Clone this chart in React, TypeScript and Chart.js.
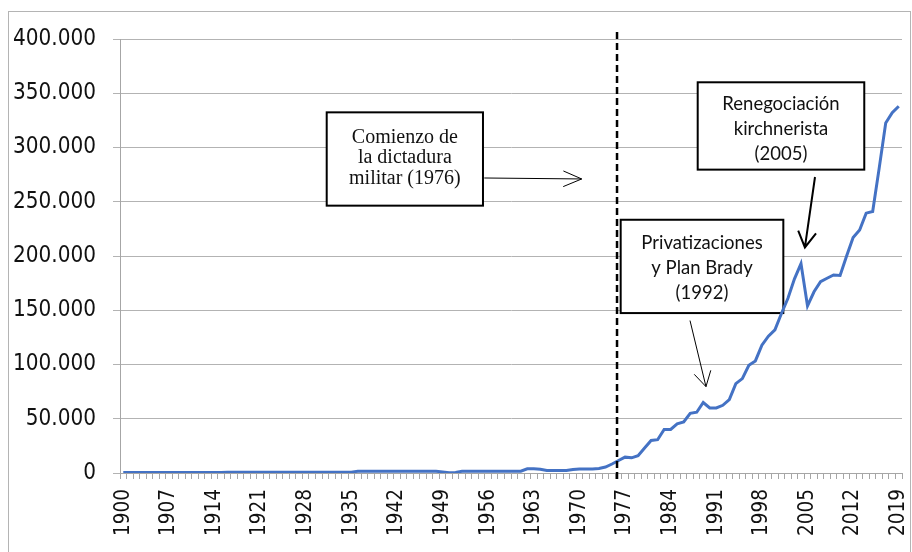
import React, { useEffect, useRef } from "react";
import { Chart, registerables } from "chart.js";

Chart.register(...registerables);

// ---- Data ----
const years: string[] = [];
for (let y = 1900; y <= 2019; y++) years.push(String(y));

// Deuda, 1900–1935
const debt1900_1935 = [
  500, 500, 500, 500, 500, 500, 500, 500, 500, 500,
  500, 500, 500, 500, 500, 500, 600, 600, 600, 600,
  600, 600, 600, 600, 600, 600, 600, 600, 600, 600,
  600, 700, 700, 700, 700, 700,
];
// 1936–1961
const debt1936_1961 = [
  1700, 1700, 1700, 1700, 1700, 1700, 1700, 1700, 1700, 1700,
  1700, 1700, 1700, 900, 200, 500, 1700, 1700, 1700, 1700,
  1700, 1700, 1700, 1700, 1700, 1700,
];
// 1962–1976
const debt1962_1976 = [
  3900, 3900, 3500, 2300, 2300, 2300, 2400, 3200, 3600, 3700,
  3800, 4200, 5500, 8300, 11500,
];
// 1977–2019
const debt1977_2019 = [
  14600, 14000, 16000, 23000, 30000, 30700, 40200, 40200, 45400, 47000,
  55000, 56000, 65000, 60000, 60000, 62400, 67600, 82400, 87000, 99300,
  103300, 117800, 126100, 132000, 147000, 161000, 179000, 193000, 154000, 167000,
  176300, 179500, 182500, 182000, 200000, 217000, 224000, 239500, 241000, 281000,
  322600, 332000, 338000,
];
const debtValues = [...debt1900_1935, ...debt1936_1961, ...debt1962_1976, ...debt1977_2019];

const yTickValues = [0, 50000, 100000, 150000, 200000, 250000, 300000, 350000, 400000];
const labelEvery = 7;
const markerYear = 1976;

const axisFamily = "'DejaVu Sans Condensed', 'DejaVu Sans'";

type Note = {
  lines: string[];
  font: string;
  lineHeight: number;
  textShift: number;
  box: [number, number, number, number]; // year0, value0 (top), year1, value1 (bottom)
  arrow: [number, number, number, number]; // year, value from -> year, value tip
  arrowWidth: number;
  headLen: number;
  headAngle: number;
};

const notes: Note[] = [
  {
    lines: ["Comienzo de", "la dictadura", "militar (1976)"],
    font: "20px 'Liberation Serif'",
    lineHeight: 20.5,
    textShift: -1,
    box: [1931.22, 332400, 1955.2, 246400],
    arrow: [1955.4, 271900, 1970.35, 271000],
    arrowWidth: 1,
    headLen: 20,
    headAngle: 23,
  },
  {
    lines: ["Privatizaciones", "y Plan Brady", "(1992)"],
    font: "18.5px Lato",
    lineHeight: 25,
    textShift: 1.5,
    box: [1976.33, 233400, 2001.29, 147400],
    arrow: [1986.97, 140500, 1989.42, 79600],
    arrowWidth: 1,
    headLen: 17,
    headAngle: 30,
  },
  {
    lines: ["Renegociación", "kirchnerista", "(2005)"],
    font: "18.5px Lato",
    lineHeight: 25,
    textShift: 3.5,
    box: [1988.15, 360100, 2013.71, 279600],
    arrow: [2006.15, 272800, 2004.6, 207900],
    arrowWidth: 2,
    headLen: 18,
    headAngle: 30,
  },
];

function fmt(v: number): string {
  return String(Math.round(v)).replace(/\B(?=(\d{3})+(?!\d))/g, ".");
}

const decorPlugin = {
  id: "decor",
  beforeDatasetsDraw(chart: any) {
    const { ctx } = chart;
    const xs = chart.scales.x;
    const ys = chart.scales.y;
    const n = years.length;
    const px = (yr: number) => xs.left + (yr - 1900 + 0.5) * (xs.width / n);
    const py = (v: number) => ys.getPixelForValue(v);
    ctx.save();
    for (const note of notes) {
      const x0 = px(note.box[0]);
      const y0 = py(note.box[1]);
      const x1 = px(note.box[2]);
      const y1 = py(note.box[3]);
      ctx.fillStyle = "#ffffff";
      ctx.fillRect(x0, y0, x1 - x0, y1 - y0);
      ctx.strokeStyle = "#000000";
      ctx.lineWidth = 2;
      ctx.strokeRect(x0, y0, x1 - x0, y1 - y0);
      ctx.fillStyle = "#111111";
      ctx.font = note.font;
      ctx.textAlign = "center";
      ctx.textBaseline = "middle";
      const cx = (x0 + x1) / 2;
      const cy = (y0 + y1) / 2 + note.textShift;
      note.lines.forEach((ln, i) => {
        ctx.fillText(ln, cx, cy + (i - (note.lines.length - 1) / 2) * note.lineHeight);
      });
      // arrow
      const ax0 = px(note.arrow[0]);
      const ay0 = py(note.arrow[1]);
      const ax1 = px(note.arrow[2]);
      const ay1 = py(note.arrow[3]);
      ctx.strokeStyle = "#000000";
      ctx.lineWidth = note.arrowWidth;
      ctx.beginPath();
      ctx.moveTo(ax0, ay0);
      ctx.lineTo(ax1, ay1);
      const ang = Math.atan2(ay1 - ay0, ax1 - ax0);
      const ha = (note.headAngle * Math.PI) / 180;
      ctx.moveTo(ax1 - note.headLen * Math.cos(ang - ha), ay1 - note.headLen * Math.sin(ang - ha));
      ctx.lineTo(ax1, ay1);
      ctx.lineTo(ax1 - note.headLen * Math.cos(ang + ha), ay1 - note.headLen * Math.sin(ang + ha));
      ctx.stroke();
    }
    ctx.restore();
  },
  afterDatasetsDraw(chart: any) {
    const { ctx } = chart;
    const xs = chart.scales.x;
    const ys = chart.scales.y;
    const idx = years.indexOf(String(markerYear));
    const x = xs.getPixelForValue(idx) - 1.5;
    ctx.save();
    ctx.strokeStyle = "#000000";
    ctx.lineWidth = 2.5;
    ctx.setLineDash([7, 4]);
    ctx.beginPath();
    ctx.moveTo(x, ys.top - 7);
    ctx.lineTo(x, ys.bottom + 7);
    ctx.stroke();
    ctx.restore();
  },
  afterDraw(chart: any) {
    const { ctx } = chart;
    ctx.save();
    ctx.strokeStyle = "#b4b4b4";
    ctx.lineWidth = 1;
    ctx.strokeRect(8.5, 11.5, 902, 560);
    ctx.restore();
  },
};

export default function App() {
  const ref = useRef<HTMLCanvasElement | null>(null);
  useEffect(() => {
    if (!ref.current) return;
    const chart = new Chart(ref.current, {
      type: "line",
      data: {
        labels: years,
        datasets: [
          {
            data: debtValues,
            borderColor: "#4472C4",
            borderWidth: 3,
            pointRadius: 0,
            tension: 0,
            fill: false,
          },
        ],
      },
      options: {
        responsive: false,
        animation: false,
        layout: { padding: { left: 8, top: 39, right: 10, bottom: 0 } },
        plugins: { legend: { display: false }, tooltip: { enabled: false } },
        scales: {
          x: {
            type: "category",
            offset: true,
            grid: {
              display: true,
              drawOnChartArea: false,
              drawTicks: true,
              tickLength: 6,
              color: "#a6a6a6",
              offset: true,
            },
            border: { color: "#a6a6a6", width: 1 },
            ticks: {
              autoSkip: false,
              maxRotation: 90,
              minRotation: 90,
              padding: 10,
              color: "#111111",
              font: { family: axisFamily, size: 20.5 },
              callback: (_v: any, i: number) => (i % labelEvery === 0 ? years[i] : ""),
            },
            afterFit: (s: any) => {
              s.height = 79;
              s.paddingLeft = 0;
              s.paddingRight = 0;
            },
          },
          y: {
            min: 0,
            max: 400000,
            afterBuildTicks: (s: any) => {
              s.ticks = yTickValues.map((v) => ({ value: v }));
            },
            grid: { color: "#b3b3b3", tickLength: 7, drawTicks: true },
            border: { color: "#a6a6a6", width: 1 },
            ticks: {
              padding: 17,
              color: "#111111",
              font: { family: axisFamily, size: 22.3 },
              callback: (v: any) => fmt(Number(v)),
            },
            afterFit: (s: any) => {
              s.width = 112;
              s.paddingTop = 0;
              s.paddingBottom = 0;
            },
          },
        },
      },
      plugins: [decorPlugin],
    });
    return () => chart.destroy();
  }, []);
  return (
    <div style={{ position: "fixed", left: 0, top: 0, width: 912, height: 552, background: "#ffffff" }}>
      <canvas ref={ref} width={912} height={552} style={{ display: "block" }} />
    </div>
  );
}
